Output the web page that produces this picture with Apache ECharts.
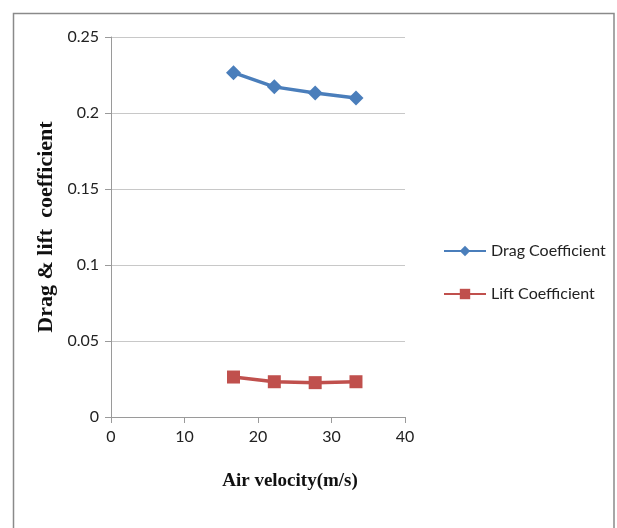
<!DOCTYPE html>
<html>
<head>
  <meta charset="UTF-8" />
  <title>Drag & lift coefficient</title>
  <script src="https://cdn.jsdelivr.net/npm/echarts@6/dist/echarts.min.js"></script>
  <style>
    body { margin: 0; background: #fff; }
    #chart { width: 617px; height: 528px; }
  </style>
</head>
<body>
  <div id="chart"></div>
  <script>
    // values
    var velocity = [16.67, 22.22, 27.78, 33.33];
    var dragCoef = [0.2265, 0.2172, 0.2132, 0.2098];
    var liftCoef = [0.0263, 0.0232, 0.0226, 0.0232];

    var labelFont = "Lato, 'Open Sans', sans-serif";
    var titleFont = "'Liberation Serif', 'DejaVu Serif', serif";

    var chart = echarts.init(document.getElementById('chart'));
    chart.setOption({
      animation: false,
      backgroundColor: '#fff',
      graphic: [{
        type: 'rect',
        shape: { x: 13.5, y: 13.5, width: 600.5, height: 520 },
        style: { fill: 'none', stroke: '#8a8a8a', lineWidth: 1.5 }
      }],
      grid: { left: 111, right: 212, top: 37, bottom: 111 },
      legend: {
        orient: 'vertical',
        left: 438,
        top: 238,
        itemWidth: 42,
        itemHeight: 13,
        itemGap: 27,
        textStyle: { fontFamily: labelFont, fontSize: 16, color: '#222' },
        data: ['Drag Coefficient', 'Lift Coefficient']
      },
      xAxis: {
        type: 'value',
        min: 0, max: 40, interval: 10,
        name: 'Air velocity(m/s)',
        nameLocation: 'middle',
        nameGap: 55,
        nameTextStyle: {
          fontFamily: titleFont, fontWeight: 'bold', fontSize: 19, color: '#111',
          padding: [0, 0, 0, 64]
        },
        axisLine: { lineStyle: { color: '#9a9a9a' } },
        axisTick: { show: true, length: 6, lineStyle: { color: '#9a9a9a' } },
        axisLabel: { fontFamily: labelFont, fontSize: 16, color: '#222', margin: 12 },
        splitLine: { show: false }
      },
      yAxis: {
        type: 'value',
        min: 0, max: 0.25, interval: 0.05,
        name: 'Drag & lift  coefficient',
        nameLocation: 'middle',
        nameGap: 54,
        nameTextStyle: { fontFamily: titleFont, fontWeight: 'bold', fontSize: 22, color: '#111' },
        axisLine: { show: true, lineStyle: { color: '#9a9a9a' } },
        axisTick: { show: true, length: 6, lineStyle: { color: '#9a9a9a' } },
        axisLabel: { fontFamily: labelFont, fontSize: 16, color: '#222', margin: 12 },
        splitLine: { lineStyle: { color: '#c8c8c8', width: 1.2 } }
      },
      series: [
        {
          name: 'Drag Coefficient',
          type: 'line',
          data: velocity.map(function (v, i) { return [v, dragCoef[i]]; }),
          symbol: 'diamond',
          symbolSize: 15,
          itemStyle: { color: '#4a7ebb' },
          lineStyle: { color: '#4a7ebb', width: 3.5 }
        },
        {
          name: 'Lift Coefficient',
          type: 'line',
          data: velocity.map(function (v, i) { return [v, liftCoef[i]]; }),
          symbol: 'rect',
          symbolSize: 13,
          itemStyle: { color: '#c0504d' },
          lineStyle: { color: '#c0504d', width: 3.5 }
        }
      ]
    });
  </script>
</body>
</html>
